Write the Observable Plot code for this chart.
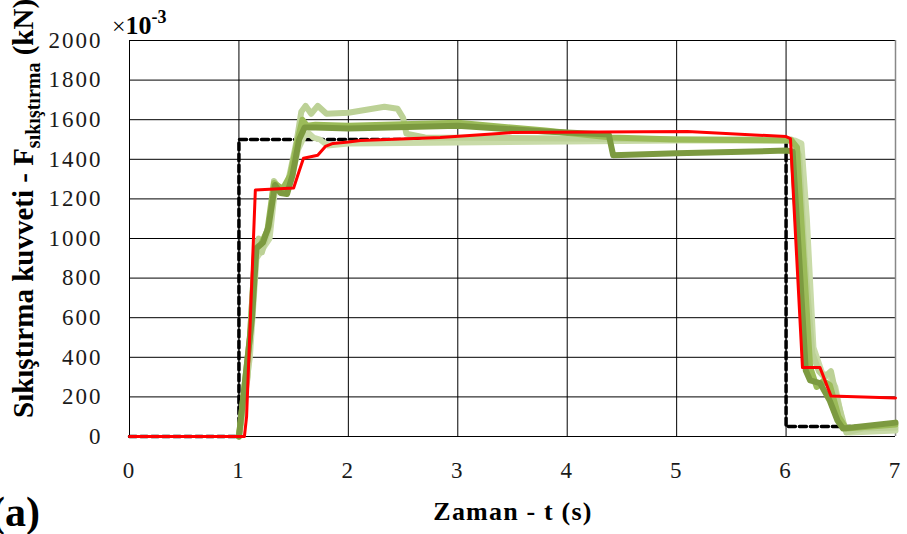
<!DOCTYPE html>
<html>
<head>
<meta charset="utf-8">
<script src="https://cdn.jsdelivr.net/npm/d3@7"></script>
<script src="https://cdn.jsdelivr.net/npm/@observablehq/plot@0.6"></script>
<style>
  html, body { margin: 0; padding: 0; background: #fff; }
  #chart svg { display: block; }
</style>
</head>
<body>
<div id="chart"></div>
<script>
// ---- Tick values ----
const xTicks = [0, 1, 2, 3, 4, 5, 6, 7];
const yTicks = [0, 200, 400, 600, 800, 1000, 1200, 1400, 1600, 1800, 2000];

// ---- Reference (dashed black) ----
const tRef = [0, 1.0, 1.0, 6.0, 6.0, 7.0];
const fRef = [0, 0, 1500, 1500, 50, 50];

// ---- Simulation (red) ----
const tRed = [0, 1.05, 1.07, 1.15, 1.50, 1.55, 1.59, 1.72, 1.79, 1.86, 2.0, 2.11, 2.84, 3.5, 5.1, 6.0, 6.04, 6.15, 6.31, 6.41, 7.0];
const fRed = [0, 0, 100, 1245, 1255, 1340, 1405, 1420, 1465, 1480, 1487, 1495, 1510, 1535, 1540, 1515, 1505, 348, 348, 205, 195];

// ---- Experiments (green) ----
const tLightA = [1.00, 1.08, 1.15, 1.18, 1.21, 1.25, 1.28, 1.32, 1.37, 1.43, 1.47, 1.53, 1.57, 1.61, 1.66, 1.72, 1.80, 2.00, 2.33, 2.45, 2.50, 2.53, 2.70, 4.00, 5.00, 6.05, 6.12, 6.17, 6.24, 6.30, 6.35, 6.41, 6.46, 6.55, 6.70, 7.00];
const fLightA = [0, 300, 960, 1000, 930, 1010, 1060, 1290, 1250, 1240, 1340, 1500, 1640, 1670, 1630, 1670, 1630, 1635, 1665, 1655, 1610, 1530, 1510, 1505, 1500, 1500, 1420, 900, 420, 330, 300, 330, 200, 20, 40, 45];

const tLightB = [1.00, 1.10, 1.16, 1.22, 1.28, 1.33, 1.42, 1.48, 1.54, 1.60, 1.64, 1.68, 1.74, 1.81, 2.00, 3.00, 4.00, 5.00, 6.08, 6.14, 6.19, 6.25, 6.33, 6.40, 6.45, 6.52, 6.58, 7.00];
const fLightB = [0, 400, 900, 950, 1000, 1250, 1260, 1300, 1450, 1520, 1530, 1510, 1500, 1470, 1480, 1485, 1490, 1495, 1495, 1480, 1100, 450, 320, 300, 250, 60, 20, 30];

const tMedium = [1.00, 1.10, 1.15, 1.20, 1.26, 1.32, 1.40, 1.47, 1.53, 1.58, 1.62, 1.70, 2.00, 3.00, 3.80, 4.40, 5.00, 6.05, 6.10, 6.16, 6.22, 6.28, 6.34, 6.40, 6.48, 6.55, 7.00];
const fMedium = [0, 500, 950, 970, 1040, 1280, 1250, 1320, 1480, 1600, 1570, 1575, 1570, 1585, 1545, 1510, 1500, 1495, 1460, 900, 350, 250, 280, 260, 100, 40, 60];

const tDark = [1.00, 1.12, 1.16, 1.22, 1.27, 1.33, 1.38, 1.44, 1.49, 1.55, 1.60, 1.70, 2.00, 3.00, 3.80, 4.38, 4.42, 5.00, 6.00, 6.06, 6.12, 6.18, 6.22, 6.31, 6.40, 6.47, 6.52, 7.00];
const fDark = [0, 600, 950, 980, 1060, 1270, 1230, 1225, 1320, 1500, 1560, 1560, 1555, 1570, 1540, 1525, 1420, 1430, 1444, 1440, 900, 333, 283, 270, 180, 80, 40, 70];

const rows = (ts, fs) => ts.map((t, i) => ({t, f: fs[i]}));

const serif = "Liberation Serif";

const chart = Plot.plot({
  width: 907,
  height: 534,
  marginLeft: 129,
  marginRight: 12,
  marginTop: 40,
  marginBottom: 98,
  style: {fontFamily: serif, background: "#fff", color: "#1a1a1a"},
  x: {domain: [0, 7]},
  y: {domain: [0, 2000]},
  marks: [
    Plot.ruleY(yTicks, {stroke: "#000", strokeWidth: 1}),
    Plot.ruleX(xTicks.filter(d => d < 7), {stroke: "#000", strokeWidth: 1}),
    Plot.ruleX([7], {stroke: "#888", strokeWidth: 1.5}),
    Plot.line(rows(tRef, fRef), {x: "t", y: "f", stroke: "#000", strokeWidth: 3.5, strokeDasharray: "7,4"}),
    Plot.line(rows(tLightB, fLightB), {x: "t", y: "f", stroke: "#c9dba8", strokeWidth: 6, strokeLinejoin: "round"}),
    Plot.line(rows(tLightA, fLightA), {x: "t", y: "f", stroke: "#bcd196", strokeWidth: 6, strokeLinejoin: "round"}),
    Plot.line(rows(tMedium, fMedium), {x: "t", y: "f", stroke: "#9bbb59", strokeWidth: 6, strokeLinejoin: "round"}),
    Plot.line(rows(tDark, fDark), {x: "t", y: "f", stroke: "#7c9a40", strokeWidth: 6, strokeLinejoin: "round"}),
    Plot.line(rows(tRed, fRed), {x: "t", y: "f", stroke: "#ff0000", strokeWidth: 3, strokeLinejoin: "round"}),
    Plot.axisY(yTicks, {tickSize: 0, tickPadding: 27, fontSize: 23, label: null, tickFormat: d => String(d)}),
    Plot.axisX(xTicks, {tickSize: 0, tickPadding: 25, fontSize: 23, label: null, tickFormat: d => String(d)})
  ]
});

const svg = d3.select(chart);
svg.selectAll('g[aria-label="y-axis tick label"] text, g[aria-label="x-axis tick label"] text')
  .style("letter-spacing", "2px");

// Y-axis title with subscript
const yl = svg.append("text")
  .attr("transform", "translate(33,418) rotate(-90)")
  .attr("text-anchor", "start")
  .attr("font-family", serif)
  .attr("font-weight", "bold")
  .attr("font-size", 29)
  .attr("fill", "#000");
yl.append("tspan").text("Sıkıştırma kuvveti - F");
yl.append("tspan").attr("font-size", 20).attr("dy", 7).text("sıkıştırma");
yl.append("tspan").attr("dy", -7).text(" (kN)");

// Multiplier label
const ml = svg.append("text")
  .attr("x", 112).attr("y", 34)
  .attr("text-anchor", "start")
  .attr("font-family", serif)
  .attr("fill", "#000");
ml.append("tspan").attr("font-size", 24).text("×");
ml.append("tspan").attr("font-size", 26).attr("font-weight", "bold").text("10");
ml.append("tspan").attr("font-size", 18).attr("font-weight", "bold").attr("dy", -11).text("-3");

// X-axis title
svg.append("text")
  .attr("x", 513).attr("y", 520)
  .attr("text-anchor", "middle")
  .attr("font-family", serif)
  .attr("font-weight", "bold")
  .attr("font-size", 26)
  .style("letter-spacing", "1.2px")
  .attr("fill", "#000")
  .text("Zaman - t (s)");

// Panel label
svg.append("text")
  .attr("x", -9).attr("y", 526)
  .attr("text-anchor", "start")
  .attr("font-family", serif)
  .attr("font-weight", "bold")
  .attr("font-size", 42)
  .attr("fill", "#000")
  .text("(a)");

document.getElementById("chart").appendChild(chart);
</script>
</body>
</html>
